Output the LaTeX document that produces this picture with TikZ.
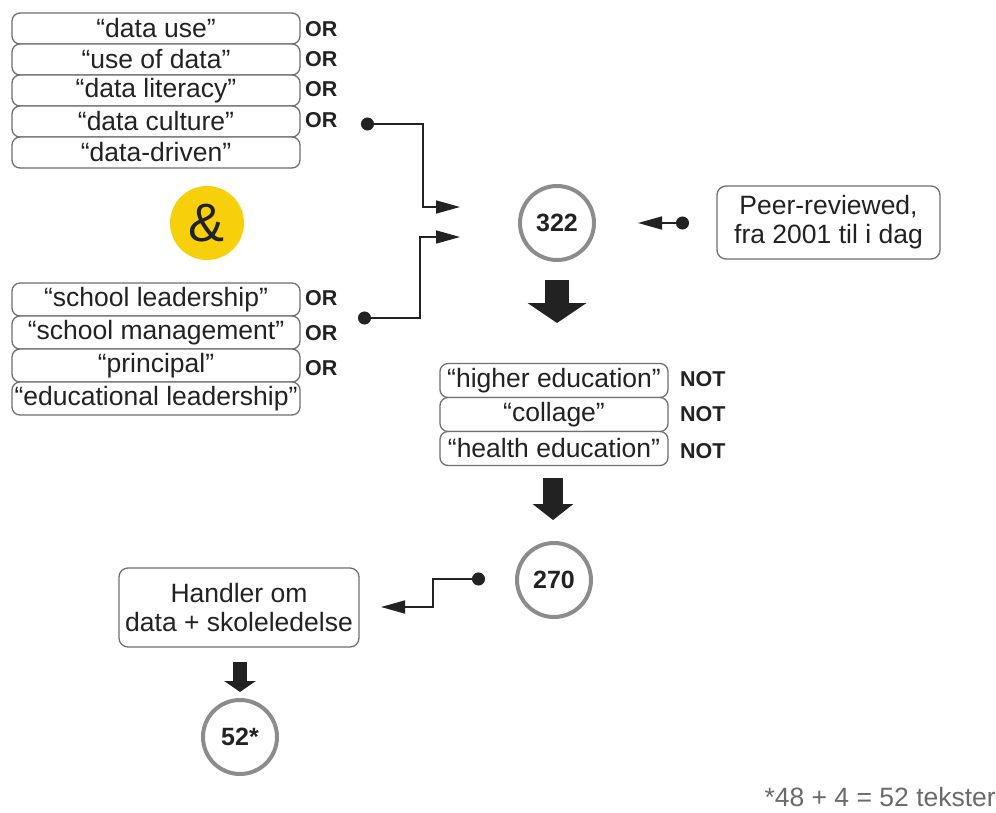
\documentclass[tikz,border=0pt]{standalone}
\usepackage{fontspec}
\setmainfont{Liberation Sans}
\usetikzlibrary{arrows.meta,calc}
\definecolor{boxgray}{HTML}{707070}
\definecolor{ringgray}{HTML}{8C8C8C}
\definecolor{txt}{HTML}{222222}
\definecolor{amp}{HTML}{F7CF0A}
\definecolor{foottxt}{HTML}{6A6A6A}
\tikzset{
  term/.style={draw=boxgray, line width=1.3pt, rounded corners=8pt, fill=white,
    minimum width=288pt, inner sep=0pt, text=txt, font=\fontsize{26.5}{30}\selectfont},
  termnot/.style={term, minimum width=228pt, minimum height=34pt},
  oplabel/.style={anchor=west, inner sep=0pt, text=txt, font=\bfseries\fontsize{21.5}{24}\selectfont},
  ring/.style={circle, draw=ringgray, line width=4pt, fill=white, minimum size=74pt,
    inner sep=0pt, text=txt, font=\bfseries\fontsize{25}{28}\selectfont},
  infobox/.style={draw=boxgray, line width=1.3pt, rounded corners=9pt, align=center,
    inner sep=0pt, text=txt, font=\fontsize{26.5}{29}\selectfont},
  conn/.style={line width=1.6pt, draw=txt, {Circle[length=13pt]}-{Triangle[length=24pt,width=13pt]}},
}
\begin{document}
\begin{tikzpicture}[x=1pt,y=-1pt]
\useasboundingbox (0,0) rectangle (996,812);
\fill[white] (0,0) rectangle (996,812);

% top group
\node[term, minimum height=31pt] (t1) at (156,28.5) {“data use”};
\node[term, minimum height=31pt] (t2) at (156,59.5) {“use of data”};
\node[term, minimum height=31pt] (t3) at (156,90.5) {“data literacy”};
\node[term, minimum height=31pt] (t4) at (156,121.5) {“data culture”};
\node[term, minimum height=31pt] (t5) at (156,152.5) {“data-driven”};
\node[oplabel] (o1) at (305,29) {OR};
\node[oplabel] (o2) at (305,59) {OR};
\node[oplabel] (o3) at (305,89) {OR};
\node[oplabel] (o4) at (305,120) {OR};

% ampersand
\node[circle, fill=amp, minimum size=74pt, inner sep=0pt, text=txt,
  font=\fontsize{54}{54}\selectfont] (amp) at (207,223) {\&};

% bottom group
\node[term, minimum height=33pt] (s1) at (156,299.5) {“school leadership”};
\node[term, minimum height=33pt] (s2) at (156,332.5) {“school management”};
\node[term, minimum height=33pt] (s3) at (156,365.5) {“principal”};
\node[term, minimum height=33pt] (s4) at (156,398.5) {“educational leadership”};
\node[oplabel] (p1) at (305,298) {OR};
\node[oplabel] (p2) at (305,333) {OR};
\node[oplabel] (p3) at (305,368) {OR};

% 322
\node[ring] (c322) at (557,223) {322};
\node[infobox, minimum width=223pt, minimum height=73pt] (peer) at (828.5,222.5)
  {Peer-reviewed,\\fra 2001 til i dag};

\coordinate (d1) at (361,124);
\coordinate (a1) at (460,207);
\coordinate (d2) at (358,318);
\coordinate (a2) at (460,237);
\coordinate (d3) at (689,223);
\coordinate (a3) at (638,223);
\draw[conn] (d1) -- ++(62,0) |- (a1);
\draw[conn] (d2) -- ++(62,0) |- (a2);
\draw[conn] (d3) -- (a3);

% NOT group
\node[termnot] (n1) at (554,380.5) {“higher education”};
\node[termnot] (n2) at (554,414.5) {“collage”};
\node[termnot] (n3) at (554,448.5) {“health education”};
\node[oplabel] (q1) at (680,379) {NOT};
\node[oplabel] (q2) at (680,414) {NOT};
\node[oplabel] (q3) at (680,451) {NOT};

\coordinate (b1s) at (557,280);
\coordinate (b1e) at (557,323);
\draw[line width=24pt, draw=txt, -{Triangle[length=20pt,width=58pt]}] (b1s) -- (b1e);

\coordinate (b2s) at (553,478);
\coordinate (b2e) at (553,520);
\draw[line width=20pt, draw=txt, -{Triangle[length=16pt,width=40pt]}] (b2s) -- (b2e);

% 270
\node[ring] (c270) at (554,580) {270};
\node[infobox, minimum width=240pt, minimum height=79pt] (hand) at (239,607.5)
  {Handler om\\data + skoleledelse};
\coordinate (d4) at (485,579);
\coordinate (a4) at (381,607);
\draw[conn] (d4) -- ++(-52,0) |- (a4);

\coordinate (b3s) at (240,662);
\coordinate (b3e) at (240,692);
\draw[line width=14pt, draw=txt, -{Triangle[length=11pt,width=31pt]}] (b3s) -- (b3e);

\node[ring] (c52) at (240,737) {52*};

\node[anchor=east, inner sep=0pt, text=foottxt, font=\fontsize{26.5}{30}\selectfont]
  (foot) at (996,797) {*48 + 4 = 52 tekster};
\end{tikzpicture}
\end{document}
